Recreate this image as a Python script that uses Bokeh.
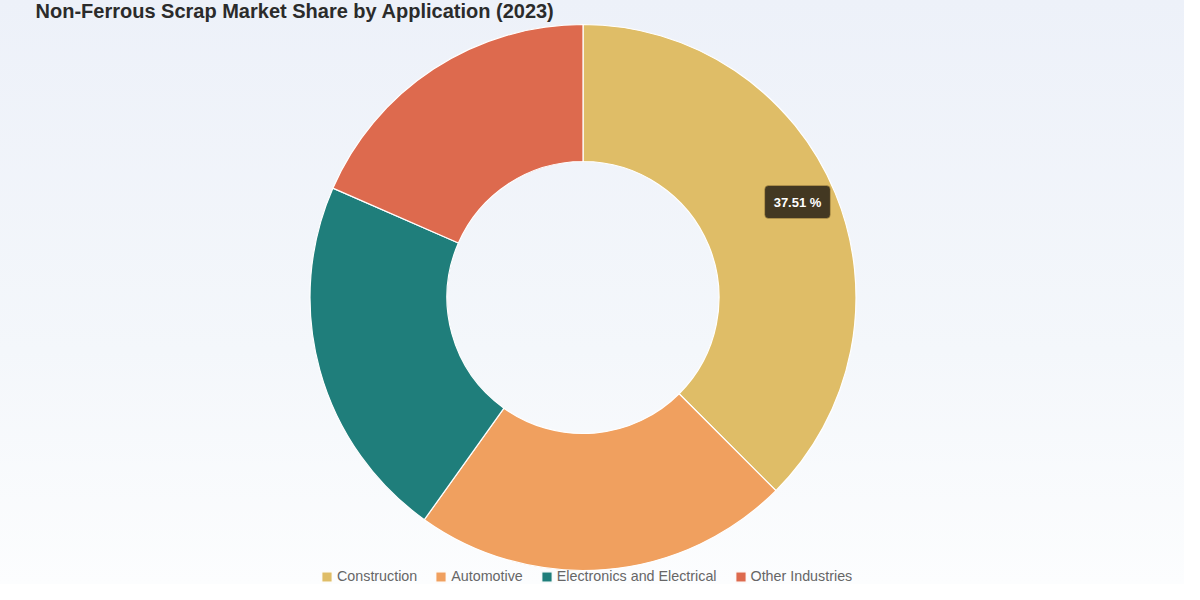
import numpy as np
from bokeh.plotting import figure
from bokeh.models import ColumnDataSource, Legend, LegendItem, Label, Range1d
from bokeh.embed import file_html
from bokeh.resources import INLINE

# ---- data ----
categories = ["Construction", "Automotive", "Electronics and Electrical", "Other Industries"]
shares = [37.51, 22.36, 21.69, 18.44]
colors = ["#dfbd67", "#f0a05f", "#1f7e7b", "#dd6a4e"]
title_text = "Non-Ferrous Scrap Market Share by Application (2023)"
tooltip_text = "37.51 %"

W, H = 1184, 584
CX, CY = 582.5, H - 297.0
R_OUT, R_IN = 273.0, 136.0

vals = np.array(shares, dtype=float)
frac = vals / vals.sum()
cum = np.concatenate([[0.0], np.cumsum(frac)])
start = np.pi / 2 - 2 * np.pi * cum[:-1]
end = np.pi / 2 - 2 * np.pi * cum[1:]

src = ColumnDataSource(dict(
    x=[CX] * len(categories), y=[CY] * len(categories),
    start=start, end=end, color=colors, cat=categories, share=shares,
))

p = figure(width=W, height=H, output_backend="svg", toolbar_location=None,
           x_range=Range1d(0, W), y_range=Range1d(0, H),
           min_border=0, min_border_left=0, min_border_right=0,
           min_border_top=0, min_border_bottom=0)
p.axis.visible = False
p.grid.visible = False
p.outline_line_color = None
p.background_fill_color = None
p.border_fill_color = None
p.styles = {"background": "linear-gradient(180deg, #edf1f9 0%, #f4f7fb 60%, #fcfdfe 100%)"}

r = p.annular_wedge(x="x", y="y", inner_radius=R_IN, outer_radius=R_OUT,
                    start_angle="start", end_angle="end", direction="clock",
                    fill_color="color", line_color="white", line_width=1.2,
                    source=src)

items = [LegendItem(label=c, renderers=[r], index=i) for i, c in enumerate(categories)]
legend = Legend(items=items, orientation="horizontal", location=(320, 0),
                glyph_width=13, glyph_height=13, label_standoff=4, spacing=17,
                label_height=14, padding=0, margin=0,
                label_text_font="Liberation Sans", label_text_font_size="14.3px",
                label_text_color="#666666",
                border_line_color=None, background_fill_alpha=0)
p.add_layout(legend, "center")

title = Label(x=35, y=H + 1, x_units="screen", y_units="screen", text=title_text,
              text_font="Liberation Sans", text_font_style="bold",
              text_font_size="20px", text_color="#2b2b2b",
              text_baseline="top", text_align="left")
p.add_layout(title)

tip = Label(x=797, y=H - 201.5, x_units="screen", y_units="screen", text=tooltip_text,
            text_font="Liberation Sans", text_font_style="bold",
            text_font_size="13px", text_color="#ffffff",
            text_align="center", text_baseline="middle",
            background_fill_color="#352c1c", background_fill_alpha=0.92,
            border_line_color="#c9a64f", border_line_alpha=0.5,
            border_radius=4, padding=9)
p.add_layout(tip)

open("out.html", "w").write(file_html(p, INLINE))
